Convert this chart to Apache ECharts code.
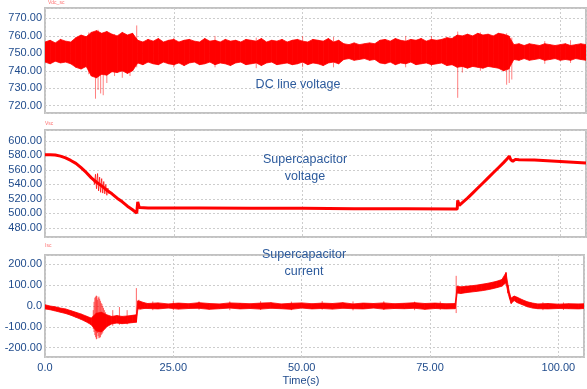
<!DOCTYPE html>
<html><head><meta charset="utf-8">
<script src="https://cdn.jsdelivr.net/npm/echarts@6/dist/echarts.min.js"></script>
<style>html,body{margin:0;padding:0;background:#fff}#c{width:587px;height:389px}</style>
</head><body><div id="c"></div>
<script>
// ---------- Panel 1: DC line voltage (noisy band: upper / lower envelope) ----------
const dcTime = [0,1,2,3,4,5,6,7,8,9,10,11,12,13,14,15,16,17,18,19,20,21,22,23,24,25,26,27,28,29,30,31,32,33,34,35,36,37,38,39,40,41,42,43,44,45,46,47,48,49,50,51,52,53,54,55,56,57,58,59,60,61,62,63,64,65,66,67,68,69,70,71,72,73,74,75,76,77,78,79,80,81,82,83,84,85,86,87,88,89,90,91,92,93,94,95,96,97,98,99,100,101,102,103,104,105];
const dcUpper = [756.5,757.5,756,758,757,756.5,
  759,760.5,759.5,
  762,763,761.5,762.5,
  761,760,762,760.5,761.5,
  757.5,756.5,758,757,758.5,756.5,757.5,758,756.5,757.5,
  758,757,756.5,758.5,757,757.5,756.5,758,757,757.5,
  756.5,758,757.5,757,758.5,756.5,757.5,757,758,756.5,
  757.5,758,757,756.5,758,757.5,757,758.5,756.5,757.5,
  755.5,755,756,755,755.5,756,755.5,
  757.5,758,757,758.5,757.5,757,758,757.5,758.5,757,758,757.5,758,759,758.5,
  760.5,760,761,760,761.5,760.5,761,760,761.5,761,760,
  755,755.5,754.5,755.5,755,754.5,755.5,755,754.5,755,755.5,754.5,755,755.5,755];
const dcLower = [745,744,745.5,744.5,745,744,
  742,741,742.5,
  737,736,738,737.5,
  739.5,739,740,738.5,740,
  744.5,743.5,745,744,743.5,745,744,743.5,744.5,743,
  744.5,745,743.5,744,745,743.5,744.5,744,743,744.5,
  745,743.5,744,744.5,743,744.5,745,743.5,744,744.5,
  743.5,744,745,743.5,744.5,744,743,744.5,745,744,
  746.5,747,746,746.5,747,746,746.5,
  744.5,744,745,743.5,744.5,744,745,743.5,744,744.5,743.5,744,744.5,743,743.5,
  742,742.5,741.5,742.5,742,741.5,742.5,742,741.5,740,741,
  746.5,746,747,746,746.5,747,746,746.5,747,746,746.5,746,747,746.5,746];
// spikes: [time, low, high]
const dcSpikes = [[8.5,738,762],[9.8,724,762],[10.3,729,763.5],[10.8,727,761],[11.3,726,760],[12.0,733,762],
  [13.5,737,761],[15.0,736,760],[16.5,737,761],[17.8,742,766],[25,742,759],[33,742,760],[41,741.5,759],
  [50,742,760],[56,742,759.5],[70,742,760],[75,742.5,760],[80.1,724.5,762.5],[81,739,760],[84.5,740,762],
  [89.6,732,761.5],[90.1,733,760],[90.6,735,759],[97,744,757],[102,744.5,757.5]];

// ---------- Panel 2: Supercapacitor voltage ----------
const vscTime = [0,1,2,3,4,5,6,7,8,9,10,11,12,13,14,15,16,17,17.8,18.0,18.3,20,30,40,50,60,70,80,80.1,80.4,81,82,83,84,85,86,87,88,89,89.8,90.1,90.4,90.8,91.3,92,95,100,105];
const vscValue = [581,581,580.5,579,576.5,573,569,563,556.5,549,543,538,532,527,521,516,510,505,500.5,516,508,507.5,507.5,507,507,506.5,506.5,506,518,511,515,521,528,535,542,549,556,563,570,576,579,574,572,574.5,574,573.5,571.5,569.5];
const vscNoiseTime = [9.4,9.6,9.8,10.0,10.2,10.4,10.6,10.8,11.0,11.2,11.4,11.6,11.8,12.0,12.2,12.4];
const vscNoise = [548,540,554,534,555,531,550,529,548,528,544,527,540,525,535,527];

// ---------- Panel 3: Supercapacitor current (band) ----------
const curTime = [0,1,2,3,4,5,6,7,8,9,10,11,12,13,14,15,16,17,17.8,18.1,18.6,19.3,20,22,24,26,28,30,32,34,36,38,40,42,44,46,48,50,52,54,56,58,60,62,64,66,68,70,72,74,76,78,79.9,80.3,81,82,83,84,85,86,87,88,89,89.8,90.2,90.5,90.8,91.4,92,93,94,95,96,98,100,102,104,105];
const curUpper = [6,0,-4,-10,-14,-22,-30,-38,-48,-58,-35,-30,-42,-50,-46,-50,-48,-45,
  -42,25,22,16,
  12,15,10,14,11,16,12,10,15,13,11,14,16,10,13,15,11,14,12,16,10,14,12,15,11,13,16,12,14,11,
  12,95,92,95,97,100,104,108,113,119,127,160,100,62,38,48,42,30,20,14,10,12,9,11,10,11];
const curLower = [-14,-18,-24,-30,-36,-44,-54,-64,-76,-90,-120,-125,-100,-86,-82,-85,-83,-80,
  -78,-12,-15,-12,
  -12,-14,-10,-15,-12,-11,-16,-13,-10,-14,-12,-15,-11,-13,-16,-10,-14,-12,-15,-11,-13,-14,-10,-15,-12,-13,-11,-16,-12,-14,
  -13,62,60,64,67,70,73,77,82,88,95,112,62,35,12,26,16,6,-4,-10,-13,-14,-12,-13,-14,-12];
const curSpikes = [[9.4,-110,-20],[9.55,-125,20],[9.7,-140,40],[9.85,-150,45],[10.0,-160,50],[10.1,-158,48],
  [10.2,-130,30],[10.35,-145,40],[10.5,-155,45],[10.65,-152,35],[10.8,-150,25],[10.95,-140,15],
  [11.1,-135,10],[11.25,-128,0],[11.4,-120,-10],[11.6,-115,-20],[11.8,-110,-30],[13.2,-95,-20],[14.5,-90,-5],[16.0,-88,-20],[17.8,-78,86],
  [18.3,-20,30],[21,-20,22],[25,-20,24],[30,-18,22],[36,-20,22],[42,-19,23],[48,-20,21],[54,-18,24],
  [60,-21,22],[66,-19,23],[72,-20,21],[77,-18,22],[80.1,-34,145],[89.8,100,163],[97,-20,18],[101,-19,17]];

// ---------- Axis tick steps / ranges ----------
const xTickStep = 25;
const yRanges = [[715.8,776,10],[467.5,615,20],[-245,245,100]];
const panelTitles = ['DC line voltage','Supercapacitor\nvoltage','Supercapacitor\ncurrent'];
const panelTags = ['Vdc_sc','Vsc','Isc'];

// ---------- build ----------
const LABEL = '#1f4b8c';
const FONT = '"Liberation Sans", Arial, sans-serif';
const RED = '#ff0000';
const zip = (t, v) => t.map((x, i) => [x, v[i]]);
function fmt(v){ return v === 0 ? '0.0' : v.toFixed(2); }
function stepFmt(step){ return v => (Math.abs(v/step - Math.round(v/step)) < 1e-6 ? fmt(v) : ''); }
const splitLine = {show:true, lineStyle:{color:'#cdcdcd', type:[2,2], width:1}};
const gridPos = [{top:8,height:105},{top:130,height:107},{top:255,height:102}];

const grid = gridPos.map(g => Object.assign({show:true,left:45,right:1,borderColor:'#c2c2c2',borderWidth:2,backgroundColor:'transparent'}, g));
const xAxis = gridPos.map((g,i) => ({type:'value',gridIndex:i,min:0,max:105,interval:xTickStep,
  axisLine:{show:false},axisTick:{show:false},
  axisLabel:{show:i===2,formatter:stepFmt(xTickStep),color:LABEL,fontSize:11,margin:5,fontFamily:FONT},
  splitLine}));
const yAxis = yRanges.map((r,i) => ({type:'value',gridIndex:i,min:r[0],max:r[1],minInterval:r[2],maxInterval:r[2],
  axisLine:{show:false},axisTick:{show:false},
  axisLabel:{formatter:stepFmt(r[2]),color:LABEL,fontSize:11,margin:3,fontFamily:FONT},
  splitLine}));

function spikeSeries(idx, data, alpha){
  return {type:'custom',xAxisIndex:idx,yAxisIndex:idx,data,silent:true,clip:true,encode:{x:0,y:[1,2]},
    renderItem:(p, api) => {
      const a = api.coord([api.value(0), api.value(1)]);
      const b = api.coord([api.value(0), api.value(2)]);
      return {type:'line',shape:{x1:a[0],y1:a[1],x2:b[0],y2:b[1]},style:{stroke:'rgba(255,0,0,'+alpha+')',lineWidth:1}};
    }};
}
// band between envelopes, one quadrilateral per sample interval
function bandSeries(idx, t, lo, hi){
  const rows = [];
  for (let i = 0; i < t.length - 1; i++) rows.push([t[i], lo[i], hi[i], t[i+1], lo[i+1], hi[i+1]]);
  return {type:'custom',xAxisIndex:idx,yAxisIndex:idx,data:rows,silent:true,clip:true,encode:{x:[0,3],y:[1,2,4,5]},
    renderItem:(p, api) => {
      const p0 = api.coord([api.value(0), api.value(2)]);
      const p1 = api.coord([api.value(3), api.value(5)]);
      const p2 = api.coord([api.value(3), api.value(4)]);
      const p3 = api.coord([api.value(0), api.value(1)]);
      return {type:'polygon',shape:{points:[p0,p1,p2,p3]},style:{fill:RED,stroke:RED,lineWidth:0.8}};
    }};
}

const series = [
  bandSeries(0, dcTime, dcLower, dcUpper),
  spikeSeries(0, dcSpikes, 0.5),
  {type:'line',xAxisIndex:1,yAxisIndex:1,symbol:'none',silent:true,data:zip(vscTime, vscValue),lineStyle:{color:RED,width:3}},
  {type:'line',xAxisIndex:1,yAxisIndex:1,symbol:'none',silent:true,data:zip(vscNoiseTime, vscNoise),lineStyle:{color:'rgba(255,0,0,0.7)',width:1}},
  bandSeries(2, curTime, curLower, curUpper),
  spikeSeries(2, curSpikes, 0.6)
];

const graphic = [
  {type:'text',x:298,y:85,z:100,style:{text:panelTitles[0],fill:'#2c5a9c',font:'12.5px '+FONT,align:'center',verticalAlign:'middle'}},
  {type:'text',x:305,y:168.5,z:100,style:{text:panelTitles[1],fill:'#2c5a9c',font:'12.5px '+FONT,align:'center',verticalAlign:'middle',lineHeight:17}},
  {type:'text',x:304,y:263.5,z:100,style:{text:panelTitles[2],fill:'#2c5a9c',font:'12.5px '+FONT,align:'center',verticalAlign:'middle',lineHeight:17}},
  {type:'text',x:301,y:381,z:100,style:{text:'Time(s)',fill:LABEL,font:'11px '+FONT,align:'center',verticalAlign:'middle'}},
  {type:'text',x:48,y:3,z:100,style:{text:panelTags[0],fill:'#ff7070',font:'5px '+FONT,align:'left',verticalAlign:'middle'}},
  {type:'text',x:45,y:124,z:100,style:{text:panelTags[1],fill:'#ff7070',font:'5px '+FONT,align:'left',verticalAlign:'middle'}},
  {type:'text',x:45,y:246,z:100,style:{text:panelTags[2],fill:'#ff7070',font:'5px '+FONT,align:'left',verticalAlign:'middle'}}
];

const chart = echarts.init(document.getElementById('c'), null, {renderer:'canvas'});
chart.setOption({animation:false,backgroundColor:'#fff',grid,xAxis,yAxis,series,graphic});
</script></body></html>
